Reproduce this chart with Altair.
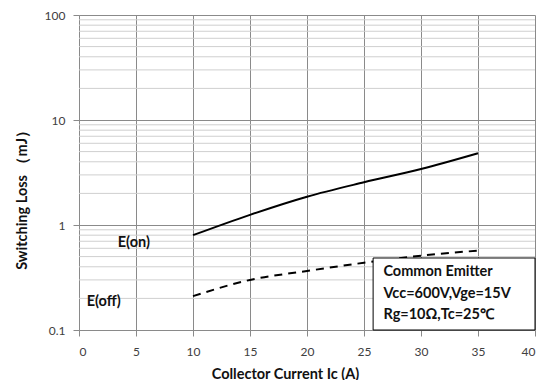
import altair as alt
import pandas as pd

# ---- data ----
ic = [10, 15, 20, 25, 30, 35]
e_on = [0.80, 1.25, 1.86, 2.55, 3.41, 4.82]
e_off = [0.21, 0.30, 0.365, 0.437, 0.51, 0.57]

x_ticks = [0, 5, 10, 15, 20, 25, 30, 35, 40]
y_ticks = [0.1, 1, 10, 100]
y_minor = [0.2, 0.3, 0.4, 0.5, 0.6, 0.7, 0.8, 0.9,
           2, 3, 4, 5, 6, 7, 8, 9,
           20, 30, 40, 50, 60, 70, 80, 90]

note_lines = ["Common Emitter", "Vcc=600V,Vge=15V", "Rg=10Ω,Tc=25℃"]
note_y = [0.357, 0.22, 0.139]
note_x = 26.7
box_x = [25.8, 40]
box_y = [0.1, 0.485]

curve_labels = ["E(on)", "E(off)"]
curve_label_x = [3.4, 0.67]
curve_label_y = [0.674, 0.185]

FONT = "Lato"
W, H = 456, 315

xs = alt.Scale(domain=[0, 40], nice=False)
ys = alt.Scale(type="log", domain=[0.1, 100], nice=False)

df = pd.DataFrame({
    "ic": ic * 2,
    "loss": e_on + e_off,
    "series": ["E(on)"] * len(ic) + ["E(off)"] * len(ic),
})

minor_df = pd.DataFrame({"v": y_minor})
minor = alt.Chart(minor_df).mark_rule(color="#cfcfcf", strokeWidth=1).encode(
    y=alt.Y("v:Q", scale=ys),
    x=alt.value(0), x2=alt.value(W),
)

base_axes = alt.Chart(pd.DataFrame({"ic": [0], "loss": [1]})).mark_point(opacity=0).encode(
    x=alt.X("ic:Q", scale=xs,
            axis=alt.Axis(values=x_ticks, title="Collector Current Ic (A)",
                          grid=True, gridColor="#8a8a8a", labelPadding=10,
                          titleX=206, titleY=48, titleAnchor="middle",
                          titleBaseline="alphabetic", titleFontSize=14.5)),
    y=alt.Y("loss:Q", scale=ys,
            axis=alt.Axis(values=y_ticks, format="~g", title="Switching Loss （mJ）",
                          grid=True, gridColor="#8a8a8a", labelPadding=8,
                          titleX=-57, titleY=181, titleAnchor="middle",
                          titleBaseline="middle", titleFontSize=14.5)),
)

on_line = alt.Chart(df[df.series == "E(on)"]).mark_line(
    color="black", strokeWidth=2, interpolate="monotone").encode(
    x=alt.X("ic:Q", scale=xs), y=alt.Y("loss:Q", scale=ys))

off_line = alt.Chart(df[df.series == "E(off)"]).mark_line(
    color="black", strokeWidth=2, strokeDash=[8, 6], interpolate="monotone").encode(
    x=alt.X("ic:Q", scale=xs), y=alt.Y("loss:Q", scale=ys))

box_df = pd.DataFrame({"x": [box_x[0]], "x2": [box_x[1]], "y": [box_y[0]], "y2": [box_y[1]]})
box = alt.Chart(box_df).mark_rect(fill="white", stroke="black", strokeWidth=1).encode(
    x=alt.X("x:Q", scale=xs), x2="x2:Q",
    y=alt.Y("y:Q", scale=ys), y2="y2:Q")

note_df = pd.DataFrame({"t": note_lines, "y": note_y, "x": [note_x] * 3})
note = alt.Chart(note_df).mark_text(
    align="left", baseline="middle", font=FONT, fontSize=14.5, fontWeight="bold",
    color="#111111").encode(
    x=alt.X("x:Q", scale=xs), y=alt.Y("y:Q", scale=ys), text="t:N")

lab_df = pd.DataFrame({"t": curve_labels, "x": curve_label_x, "y": curve_label_y})
labels = alt.Chart(lab_df).mark_text(
    align="left", baseline="middle", font=FONT, fontSize=14.5, fontWeight="bold",
    color="#111111").encode(
    x=alt.X("x:Q", scale=xs), y=alt.Y("y:Q", scale=ys), text="t:N")

chart = alt.layer(minor, base_axes, on_line, off_line, box, note, labels).properties(
    width=W, height=H,
    autosize=alt.AutoSizeParams(type="none"),
    padding={"left": 71, "top": 7, "right": 7, "bottom": 50},
).configure_view(stroke=None).configure_axis(
    domainColor="#8a8a8a", tickColor="#8a8a8a", tickSize=6,
    labelFont=FONT, labelFontSize=12, labelColor="#404040",
    titleFont=FONT, titleFontWeight="bold", titleColor="#111111",
)

chart.save("out.html", embed_options={"renderer": "svg", "actions": False})
